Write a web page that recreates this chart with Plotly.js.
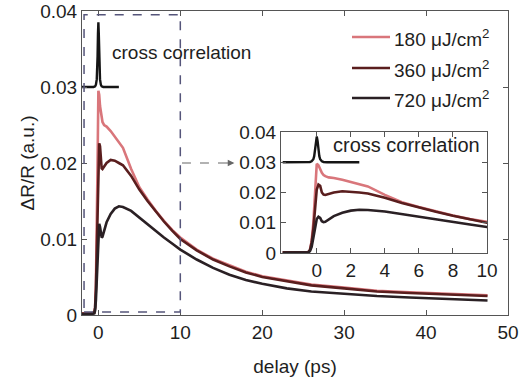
<!DOCTYPE html>
<html>
<head>
<meta charset="utf-8">
<script src="https://cdn.plot.ly/plotly-3.0.1.min.js"></script>
<style>
html,body{margin:0;padding:0;background:#fff;}
#chart{width:519px;height:381px;}
</style>
</head>
<body>
<div id="chart"></div>
<script>
// ---- data ----
const delay = [-2, -1, -0.5, -0.4, -0.3, -0.2, -0.1, 0, 0.1, 0.2, 0.3, 0.4, 0.5, 0.7, 1, 1.5, 2, 2.5, 3, 4, 5, 6, 7, 8, 9, 10, 12, 14, 16, 18, 20, 23, 26, 30, 34, 38, 42, 45, 47.5];
const dr180 = [0.0002, 0.0002, 0.0003, 0.0010, 0.0040, 0.0100, 0.0200, 0.0295, 0.0290, 0.0275, 0.0265, 0.0258, 0.0254, 0.0250, 0.0248, 0.0242, 0.0235, 0.0228, 0.0220, 0.0192, 0.0168, 0.0152, 0.0137, 0.0124, 0.0112, 0.0102, 0.0086, 0.0074, 0.0065, 0.0057, 0.0051, 0.0045, 0.0040, 0.0036, 0.0032, 0.0030, 0.0028, 0.0027, 0.0026];
const dr360 = [0.0002, 0.0002, 0.0003, 0.0010, 0.0035, 0.0080, 0.0150, 0.0210, 0.0226, 0.0222, 0.0200, 0.0193, 0.0192, 0.0195, 0.0200, 0.0204, 0.0203, 0.0200, 0.0197, 0.0183, 0.0165, 0.0150, 0.0136, 0.0123, 0.0111, 0.0100, 0.0085, 0.0073, 0.0064, 0.0056, 0.0050, 0.0044, 0.0039, 0.0035, 0.0031, 0.0029, 0.0027, 0.0026, 0.0025];
const dr720 = [0.0001, 0.0001, 0.0002, 0.0006, 0.0020, 0.0050, 0.0085, 0.0112, 0.0120, 0.0116, 0.0105, 0.0102, 0.0103, 0.0110, 0.0122, 0.0133, 0.0140, 0.0143, 0.0142, 0.0137, 0.0128, 0.0119, 0.0110, 0.0102, 0.0094, 0.0086, 0.0073, 0.0062, 0.0053, 0.0046, 0.0041, 0.0035, 0.0031, 0.0028, 0.0025, 0.0023, 0.0021, 0.0020, 0.0019];
const ccDelay = [-2, -0.6, -0.4, -0.3, -0.2, -0.15, -0.1, -0.05, 0, 0.05, 0.1, 0.15, 0.2, 0.3, 0.4, 0.6, 2.5];
const ccSignal = [0.0300, 0.0300, 0.0301, 0.0303, 0.0310, 0.0320, 0.0340, 0.0370, 0.0385, 0.0370, 0.0340, 0.0320, 0.0310, 0.0303, 0.0301, 0.0300, 0.0300];
const seriesNames = ['180 μJ/cm<sup>2</sup>', '360 μJ/cm<sup>2</sup>', '720 μJ/cm<sup>2</sup>'];
const seriesColors = ['#d9767b', '#5a1e1e', '#2a2024'];
const xTicksMain = [0, 10, 20, 30, 40, 50];
const xTicksInset = [0, 2, 4, 6, 8, 10];
const yTicks = [0, 0.01, 0.02, 0.03, 0.04];
const yTickText = ['0', '0.01', '0.02', '0.03', '0.04'];

const seriesVals = [dr180, dr360, dr720];
const FONT = 'Liberation Sans, Arial, sans-serif';
const FS = 19;
const TXT = '#1e1e1e';
const AX = '#555';

const traces = [];
['x', 'x2'].forEach((xa, k) => {
  const ya = k === 0 ? 'y' : 'y2';
  seriesVals.forEach((vals, i) => {
    traces.push({x: delay, y: vals, xaxis: xa, yaxis: ya, type: 'scatter', mode: 'lines',
      name: seriesNames[i], showlegend: false,
      line: {color: seriesColors[i], width: 2.6}});
  });
  traces.push({x: ccDelay, y: ccSignal, xaxis: xa, yaxis: ya, type: 'scatter', mode: 'lines',
    name: 'cross correlation', showlegend: false, line: {color: '#151515', width: 2.4}});
});

const axCommon = {showline: true, linecolor: AX, linewidth: 1, mirror: 'ticks', ticks: 'inside',
  ticklen: 5, tickcolor: AX, showgrid: false, zeroline: false,
  tickfont: {family: FONT, size: FS, color: TXT}};

const shapes = [
  {type: 'rect', xref: 'x', yref: 'y', x0: -1.75, x1: 10, y0: 0.0004, y1: 0.0395,
   line: {color: '#55557a', width: 1.5, dash: 'dash'}},
  {type: 'line', xref: 'x', yref: 'y', x0: 10.2, x1: 15.6, y0: 0.02, y1: 0.02,
   line: {color: '#666', width: 1.2, dash: 'dash'}}
];
const annotations = [
  {xref: 'x', yref: 'y', x: 16.6, y: 0.02, ax: 15.4, ay: 0.02, axref: 'x', ayref: 'y',
   showarrow: true, arrowhead: 2, arrowsize: 1.1, arrowwidth: 1.2, arrowcolor: '#666', text: ''},
  {xref: 'x', yref: 'y', x: 1.45, y: 0.0346, xanchor: 'left', yanchor: 'middle', showarrow: false,
   text: 'cross correlation', font: {family: FONT, size: FS, color: TXT}},
  {xref: 'x2', yref: 'y2', x: 0.85, y: 0.0357, xanchor: 'left', yanchor: 'middle', showarrow: false,
   text: 'cross correlation', font: {family: FONT, size: FS + 1, color: TXT}}
];
// manual legend (paper coords)
const W = 519, H = 381, L = 82, R = 11, T = 11, B = 66;
const px2x = p => (p - L) / (W - L - R);
const py2y = p => 1 - (p - T) / (H - T - B);
const legY = [37, 68, 98];
seriesNames.forEach((n, i) => {
  shapes.push({type: 'line', xref: 'paper', yref: 'paper', x0: px2x(352), x1: px2x(390),
    y0: py2y(legY[i]), y1: py2y(legY[i]), line: {color: seriesColors[i], width: 2.6}});
  annotations.push({xref: 'paper', yref: 'paper', x: px2x(392), y: py2y(legY[i] + 1), xanchor: 'left',
    yanchor: 'middle', showarrow: false, text: n, font: {family: FONT, size: FS, color: TXT}});
});

const layout = {
  width: W, height: H,
  margin: {l: L, r: R, t: T, b: B},
  paper_bgcolor: '#fff', plot_bgcolor: '#fff',
  showlegend: false,
  xaxis: Object.assign({}, axCommon, {domain: [0, 1], range: [-2, 50], tickvals: xTicksMain,
    title: {text: 'delay (ps)', font: {family: FONT, size: FS, color: TXT}, standoff: 17}}),
  yaxis: Object.assign({}, axCommon, {domain: [0, 1], range: [0, 0.04], tickvals: yTicks, ticktext: yTickText,
    title: {text: 'ΔR/R (a.u.)', font: {family: FONT, size: FS, color: TXT}, standoff: 0}}),
  xaxis2: Object.assign({}, axCommon, {domain: [px2x(281), px2x(487)], range: [-2.1, 10], tickvals: xTicksInset,
    anchor: 'y2'}),
  yaxis2: Object.assign({}, axCommon, {domain: [1 - (253 - T) / (H - T - B), 1 - (132 - T) / (H - T - B)],
    range: [0, 0.04], tickvals: yTicks, ticktext: yTickText, anchor: 'x2'}),
  shapes: shapes,
  annotations: annotations
};
Plotly.newPlot('chart', traces, layout, {staticPlot: true, displayModeBar: false});
</script>
</body>
</html>
